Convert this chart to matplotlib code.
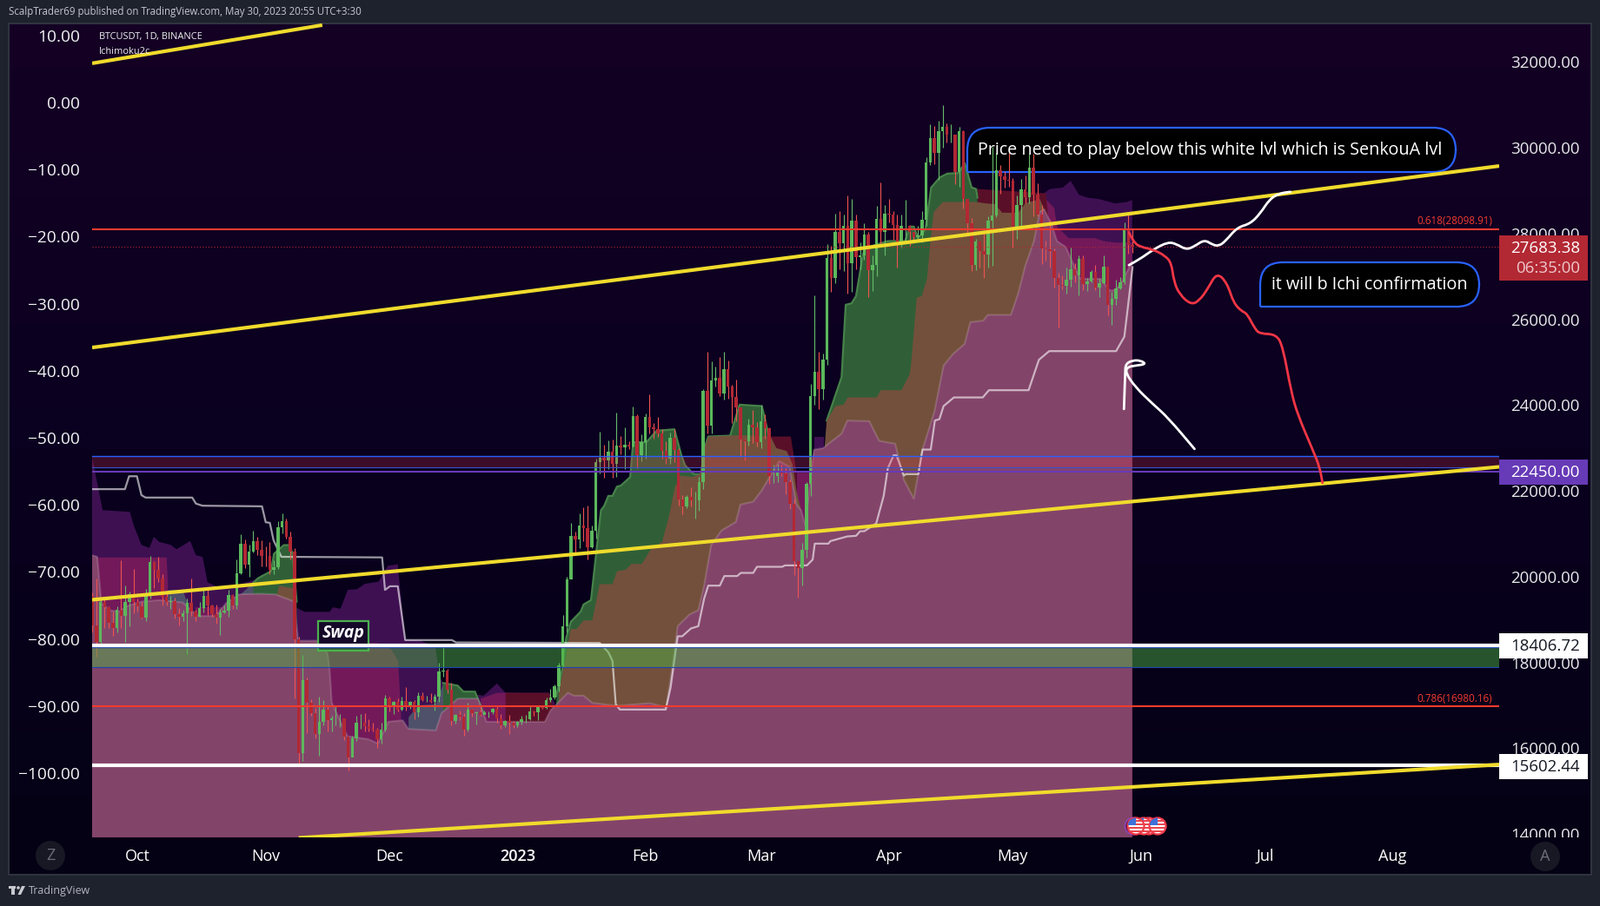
import numpy as np
import matplotlib
matplotlib.use("Agg")
import matplotlib.pyplot as plt
from matplotlib.colors import LinearSegmentedColormap
from matplotlib.patches import Circle, PathPatch, Rectangle
from matplotlib.path import Path
from matplotlib.transforms import Bbox

plt.rcParams["font.family"] = "Open Sans"
plt.rcParams["font.weight"] = "medium"

# ---------- candles: one row per day, 20 Sep 2022 .. 30 May 2023 (day 0 = 1 Oct 2022)
closes = [18870,18480,19400,19290,18920,18800,19220,19080,19410,19590,19420,
 19310,19050,19620,20340,20160,19950,19530,19420,19440,19130,19060,19150,19380,19180,19060,19260,19550,19330,19120,19040,19160,19200,19570,19330,20080,20770,20290,20590,20820,20630,20490,
 20480,20150,20210,21150,21300,20920,20590,18540,15880,17590,17070,16810,16330,16620,16900,16660,16690,16700,16700,16280,15780,16230,16600,16600,16520,16460,16430,16210,16440,17170,
 16970,17090,16890,17110,16970,17090,16840,17220,17130,17130,17090,17210,17780,17810,17360,16630,16780,16740,16440,16900,16820,16830,16780,16830,16830,16920,16700,16530,16630,16600,16540,
 16620,16670,16670,16850,16830,16950,16940,17120,17180,17440,17940,18850,19930,20950,20870,21190,21130,20680,21070,22670,22780,22710,22920,22630,23060,23010,23070,23030,23740,22830,23130,
 23730,23490,23430,23330,22930,22760,23240,22960,21800,21630,21860,21780,21780,22200,24330,23520,24570,24630,24280,24840,24440,24190,23950,23190,23160,23550,23490,23140,
 23630,23470,22350,22350,22430,22410,22200,21700,20360,20190,20630,22160,24200,24770,24370,25050,27420,26970,28040,27770,28170,27310,28300,27450,27480,27980,27140,27270,28350,28030,28470,
 28450,28200,27790,28170,28170,28040,27920,27950,28330,29650,30230,29880,30390,30480,30310,30310,29430,30380,28800,28240,27260,27820,27590,27510,28300,28420,29470,29340,29250,29230,
 28070,28670,29030,28840,29530,28900,28450,27660,27630,27600,26970,26800,26780,26920,27170,27030,27400,26820,26890,27100,26750,26850,27220,26330,26470,26720,26870,28080,27740,27683]
first_open = 19540
highs = [19640,19950,19500,19500,19310,19180,19310,20380,19790,19650,20180,
 19490,19400,19720,20480,20360,20460,20060,19620,19560,19510,19270,19220,19500,19950,19230,19420,19690,19710,19350,19340,19250,19320,19700,19600,20400,20990,20870,20750,21080,20930,20840,
 20700,20800,20380,21300,21470,21360,21060,20670,18600,18170,17650,17140,16930,17200,17120,17000,16750,17000,16800,16590,16260,16300,16750,16800,16820,16680,16600,16480,16590,17250,
 17200,17100,17160,17200,17420,17100,17130,17300,17300,17230,17280,17260,18000,18390,17850,17530,16800,16880,16820,17060,16920,16860,16960,16870,16860,16940,16970,16790,16660,16770,16630,
 16630,16760,16780,16990,16880,16990,16980,17180,17390,17490,18000,19100,20000,21260,21050,21470,21620,21650,21190,22750,23370,23080,23170,23200,23820,23280,23490,23160,23960,23790,23320,
 23800,24250,23580,23720,23430,23160,23360,23450,22990,21910,21910,22090,21990,22330,24380,25250,25020,24900,25120,25250,25030,24470,24600,23640,23220,23690,23880,23600,
 24000,23780,23480,22600,22620,22600,22540,22270,21820,20370,20790,22200,24500,26550,25250,25200,27760,27720,28470,28530,28440,28880,28800,28450,27800,28240,28030,27500,28650,29190,28660,
 28800,28530,28450,28440,28780,28190,28000,28170,28530,29770,30550,30500,30620,31000,30570,30550,30310,30490,30410,28750,28370,27880,27820,28000,28400,30020,29880,29590,29450,29970,
 29300,28880,29270,29360,29850,29850,29170,28660,27840,28330,27650,27080,27030,27200,27670,27300,27480,27480,26970,27150,27270,26950,27500,27220,26630,26930,26990,28260,28440,28100]
lows = [18700,18125,18360,18800,18800,18620,18700,18810,18470,18840,19150,
 19180,19020,18960,19500,19730,19880,19320,19330,19250,19030,18860,18970,18190,19090,18970,19070,19170,19100,19070,18900,18650,19140,19070,19250,19240,20050,20200,20000,20570,20500,20240,
 20250,20050,20050,20170,21000,20890,20410,17170,15590,15700,16360,16750,16230,15820,16540,16400,16400,16530,16500,16180,15480,15830,16170,16460,16400,16400,16400,16000,16110,16400,
 16860,16790,16860,16880,16870,16920,16680,16730,17100,17090,17070,16870,17080,17660,17280,16530,16580,16660,16290,16400,16730,16560,16760,16790,16710,16800,16590,16460,16490,16330,16470,
 16490,16550,16600,16660,16750,16660,16910,16910,17090,17150,17320,17900,18700,20000,20550,20660,20830,20400,20660,20880,22410,22300,22500,22300,22330,22850,22510,22980,23020,22520,22700,
 22760,23340,23210,23260,22750,22630,22630,22680,21650,21450,21600,21640,21350,21530,22050,23340,23340,24440,24200,24120,24150,23590,23620,22800,22720,23060,23110,23030,
 23000,23220,22160,22180,22200,22350,21920,21580,20040,19520,19800,20440,21880,24000,23900,24120,24930,26630,26850,27170,27120,26600,26630,27170,27160,27380,26510,26650,27000,27700,27500,
 28260,27860,27200,27670,27820,27710,27780,27880,27800,28170,29600,29620,29260,30000,30130,30120,29150,29080,28590,27970,27130,27150,27200,26970,27200,27240,28380,28920,29060,29090,
 27670,27880,28130,28700,28700,28400,28400,27280,27370,27200,26750,25810,26700,26600,26760,26870,26550,26670,26650,26870,26690,26520,26830,26100,25870,26340,26700,26830,27530,27550]
first_day = -11

# ---------- cloud outlines (day, price)
pink_d = [-11.05,-9.8,-8.8,-6.7,-4.6,-2.5,1,5.2,10.9,12.6,14.7,18.9,21.4,24.5,29.8,33.3,37.9,38.9,43.8,46,46.5,47,50.8,55.8,58.2,60.7,64.2,65.6,72.2,73.6,77.5,82.4,84.5,98.6,100,104.2,105.6,108,110.1,116,124,128,129.4,130.8,133.6,135.8,137.2,138.9,141.4,144.9,146,149.1,151.2,155.4,157.9,159.6,160.7,161.7,163,163.8,166,170.5,171.9,177.2,179.6,183.5,185.6,188,190.1,193,195.2,197.5,200.3,201.7,204.8,205.9,211.5,213.3,215,217.1,218.5,219.6,221.3,222.7,224.8,227,228.4,233.3,235.4,236.8,238.2,240.9]
pink_p = [20500,20466,19386,19217,19183,19318,19420,19453,19400,19251,19082,19082,19386,19588,19602,19588,19420,18508,18508,18205,17830,17065,16281,16213,16112,16618,16652,16450,16416,16821,17158,17158,16618,16618,16888,17293,17226,17226,17057,16990,17050,16956,17833,18846,19116,19217,19791,20736,21074,21276,21681,21748,22018,22693,22558,21681,21546,21208,22300,22963,22997,23335,23638,23625,23166,23098,22255,21816,22963,23850,24921,25191,25427,25934,25967,26102,26102,26609,27250,27823,28498,28566,28228,27823,27688,27216,26946,26946,26676,26676,26845,27351]

purple_d = [-11.05,-8.5,-1.9,-1,0.9,2.8,3.9,5.2,8,9.4,12.7,14.1,15.7,16.9,19.3,24,28.7,33,37,38,38.5,40.4,46.5,47.3,49.1,50.9,53.1,55,58.3,60.6,63,63.4,64.8,68.4,71.2,72.2,73,74,77.5,78.9,83.8,87,89.1,99.6,101]
purple_p = [22775,21550,21510,21200,20740,20670,20930,20810,20740,20640,20830,20500,20460,19870,19760,19800,19938,19830,19800,19400,19272,19180,19180,19286,19251,19692,19706,19832,19881,20253,20288,19868,18536,18508,18407,18306,17700,17500,17428,17293,17226,17510,17293,17293,17065]
purple2_d = [218.9,220,221,224.1,226,228,230.1,232.9,236.8,239.6,240.9]
purple2_p = [28903,28971,29038,29072,29228,28903,28836,28802,28701,28735,28782]
purple3_d = [163.8,166.3]
purple3_p = [23267,23267]

magenta1_d = [-11.05,7,7.3]
magenta1_p = [20446,20446,19858]
magenta2_d = [14,21]
magenta2_p = [19285,19285]
magenta3_d = [43,50,58,61.4,63.1,63.8]
magenta3_p = [18454,18454,18454,18306,18036,16753]
magenta4_d = [83.1,87,89.1,100]
magenta4_p = [17158,17290,17293,17260]
magenta5_d = [159.6,162.8,163.8]
magenta5_p = [22424,22424,22963]
magenta6_d = [218.9,222,222.7,224.1,225.5,231.9,234,236.8,240.9]
magenta6_p = [28903,28600,28161,28026,27891,27891,27823,27790,27790]

darkred1_d = [89.1,99.6,100.2,101]
darkred1_p = [17293,17293,17100,16900]
darkred2_d = [153.3,158.2,159.6]
darkred2_p = [23267,23267,22424]
darkred3_d = [203.4,220,220.5]
darkred3_p = [29038,28937,28400]

slate1_d = [65.6,68,72.2,74,77.5,78.9,81.7,83.8]
slate1_p = [16720,17000,17023,17496,17428,17293,17293,16753]
slate2_d = [24.9,28,30.1,32.9,33.8]
slate2_p = [19587,19858,20043,20043,19800]
slate3_d = [7.3,10.9,12.3,12.6]
slate3_p = [19690,19690,19318,19200]

green1_d = [28,29.1,32.3,33,35.4,36.8,37.5,38.5]
green1_p = [19858,19960,20128,20533,20736,20736,20533,19420]
green2_d = [74,77.5,78.9,81.7,83.8]
green2_p = [17520,17460,17320,17320,16800]
green3_d = [101.4,102.8,103.8,104.9,107.3,108,109.8,112.2,113,114,115,116.1,117,119.3,120,123.2,125.7,130,131.7,132.6,134.7,136.1]
green3_p = [17226,17833,18576,18947,19184,19352,19453,21546,21650,21883,21883,22100,22120,22322,23132,23132,23402,23436,22828,22592,22390,22390]
green4_d = [137.2,138.2,143.5,145.8,151.2,152.9,153.5]
green4_p = [22963,23267,23287,24009,23976,23267,23000]
green5_d = [166.9,170.5,171.5,172.9,174,175.4,176,181.7,185.9,187,188,189,190.8,192.2,194.3,196.1,198.9,200.3,202,203.1,203.4]
green5_p = [23640,24651,26338,26372,26541,27351,27655,27823,27823,28161,28161,27891,28094,29072,29308,29396,29410,29646,29072,29038,28836]

brown1_d = [33.7,34.3,37.6,37.8]
brown1_p = [19587,19791,19727,19482]
brown2_d = [102,104,104.9,106.3,108,110.1,111.9,115,116.1,118.2,119.6,122.1,124.5,127,128.7,130.1,131.5,134.4,136.1,137.2,138.2,143.5,146,153.3,154.7,157.2,158.6,159.6,160.7]
brown2_p = [17300,18300,18778,18778,18981,18981,19825,19825,20128,20162,20297,20297,20668,20804,21411,22086,22356,22322,22390,22963,23267,23287,23300,23267,22997,22930,22626,22000,21546]
brown3_d = [166.4,166.9,169,171,172,179,180,185,187,187.3,188.7,189.9,191.2,191.9,192.8,195,203.1,205.5,207.6,209.4,213.3,215,218.5,219.6,220]
brown3_p = [23031,23640,23975,24010,24178,24178,24347,24347,24718,24921,26507,26541,26946,27688,28498,28735,28735,28701,28687,28485,28485,28701,28802,28566,28400]

# ---------- light baseline (day, price)
base_d = [-11.05,-3.1,-2.1,-0.2,0.9,1.9,13.2,14.1,15.7,30.1,31,32,32.9,34.8,59.2,59.9,61.1,63,64.8,76.1,77.1,111.9,114,115,115.8,116.8,127.9,129.1,130.8,131.9,134,135.8,137.2,138.2,141,142.1,145.2,146.1,149.1,150,156.1,156.8,162.1,163.5,164,167.3,167.8,171.9,174,175,176,178.9,180.7,181.7,183.1,183.8,185.6,186.1,189.1,190.1,192.1,193.1,194.2,195.2,197.7,204.7,206.2,215.8,218.3,220.8,237,239,241]
base_p = [22040,22040,22341,22341,21900,21844,21844,21703,21654,21640,21269,21255,20848,20463,20449,19692,19776,19776,18522,18522,18466,18454,18238,18036,17024,16902,16902,17429,18610,18610,18792,18846,19487,19791,19791,20014,20014,20088,20088,20230,20230,20263,20263,20398,20770,20770,20830,20938,20952,21060,21060,21242,21883,22525,22828,22828,22356,22390,22390,22963,22963,23640,23672,23976,24178,24178,24347,24347,25056,25258,25258,25596,27216]

# ---------- trend lines
yellow1_d, yellow1_p = [-11.05, 44.7], [31968, 32859]
yellow2_d, yellow2_p = [-11.05, 329.8], [25342, 29574]
yellow3_d, yellow3_p = [-11.05, 329.8], [19461, 22560]
yellow4_d, yellow4_p = [39, 329.8], [13912, 15620]

# ---------- freehand strokes
white_d = [240.1,242.5,246.1,249.6,251.6,254,256,258.4,260.4,261.9,263.5,266.3,269.5,271.9,274.2,276.6,279.2]
white_p = [27263,27385,27634,27803,27756,27621,27702,27857,27736,27709,27823,28141,28228,28465,28802,28937,28971]
red_d = [240.1,241.3,242.9,246.1,248.8,250.4,251,252.4,255.2,257.2,259.2,261.4,263.9,265.5,267.5,268.7,270.7,271.9,275.8,277.4,279.4,281,284.6,286.3,287]
red_p = [28026,27790,27688,27621,27486,27317,26878,26575,26338,26440,26710,27094,26845,26372,26183,26136,25765,25664,25650,25360,24313,23773,22964,22559,22187]
arrow_d = [238.9,239.2,239.3,240.9,242.9,244.3,241.7,239.7,239.3,241.7,245.7,249.6,256]
arrow_p = [23908,24752,24955,25042,25042,24955,24921,24887,24752,24415,24043,23706,22977]

# ---------- levels
fib_618, fib_786 = 28098.91, 16980.16
last_price = 27683.38
band_red = (22544, 22810)
level_purple = 22450
band_green = (17898, 18406.72)
band_green_edge = 18350
level_white = 15602.44

# ---------- axes ticks
x_days = [0, 31, 61, 92, 123, 151, 182, 212, 243, 273, 304]
x_labels = ["Oct", "Nov", "Dec", "2023", "Feb", "Mar", "Apr", "May", "Jun", "Jul", "Aug"]
right_ticks = [14000,16000,18000,20000,22000,24000,26000,28000,30000,32000]
left_ticks = [10,0,-10,-20,-30,-40,-50,-60,-70,-80,-90,-100]

W, H = 1841, 1043
PAGE = "#1e222d"
fig = plt.figure(figsize=(W/100, H/100), dpi=100, facecolor=PAGE)

def rect_of(x0, y0, x1, y1):
    return [x0/W, 1-y1/H, (x1-x0)/W, (y1-y0)/H]

bg = fig.add_axes(rect_of(10, 27, 1831, 1007), zorder=0)
cmap = LinearSegmentedColormap.from_list("pane", ["#140024", "#0a001f", "#040214"])
bg.imshow(np.linspace(0, 1, 256)[:, None], cmap=cmap, aspect="auto", extent=(0, 1, 0, 1))
bg.set_xticks([]); bg.set_yticks([])
for s in bg.spines.values():
    s.set_color("#2f333f"); s.set_linewidth(1.5)

ax = fig.add_axes(rect_of(106, 27, 1725, 964), zorder=2)
ax.patch.set_alpha(0)
ax.set_xlim(-11.05, 329.8)
ax.set_ylim(13922, 32897)
for s in ax.spines.values():
    s.set_visible(False)

ov = fig.add_axes([0, 0, 1, 1], zorder=5)
ov.set_xlim(0, W); ov.set_ylim(H, 0); ov.axis("off"); ov.patch.set_alpha(0)

LOW = 13000
def cloud(d, p, color, z, edge=None):
    ax.fill(list(d)+[d[-1], d[0]], list(p)+[LOW, LOW], color=color, lw=0, zorder=z)
    if edge:
        ax.plot(d, p, color=edge, lw=1.6, zorder=z+0.01, solid_joinstyle="round")

PURPLE, MAG, DRED, SLATE = "#3e1052", "#73195a", "#5a0f28", "#4f5069"
GREEN, GEDGE, BROWN, PINK = "#305f37", "#468249", "#73503c", "#83446a"

cloud(purple_d, purple_p, PURPLE, 1.0)
cloud(purple2_d, purple2_p, PURPLE, 1.0)
cloud(purple3_d, purple3_p, PURPLE, 1.0)
for d, p in [(magenta1_d, magenta1_p), (magenta2_d, magenta2_p), (magenta3_d, magenta3_p),
             (magenta4_d, magenta4_p), (magenta5_d, magenta5_p), (magenta6_d, magenta6_p)]:
    cloud(d, p, MAG, 1.1)
for d, p in [(darkred1_d, darkred1_p), (darkred2_d, darkred2_p), (darkred3_d, darkred3_p)]:
    cloud(d, p, DRED, 1.2)
cloud(slate1_d, slate1_p, SLATE, 1.3)
cloud(slate2_d, slate2_p, SLATE, 1.3)
cloud(slate3_d, slate3_p, SLATE, 1.3)
for d, p in [(green1_d, green1_p), (green2_d, green2_p), (green3_d, green3_p),
             (green4_d, green4_p), (green5_d, green5_p)]:
    cloud(d, p, GREEN, 1.4, GEDGE)
for d, p in [(brown1_d, brown1_p), (brown2_d, brown2_p), (brown3_d, brown3_p)]:
    cloud(d, p, BROWN, 1.5)
cloud(pink_d, pink_p, PINK, 1.6)
ax.plot(pink_d, pink_p, color="white", alpha=0.16, lw=1.5, zorder=1.7)
ax.plot(base_d, base_p, color="white", alpha=0.6, lw=1.6, zorder=1.8, solid_joinstyle="round")

def callout(x0, y0, x1, y1, r, text, fs, dx=0):
    C3 = Path.CURVE3
    verts = [(x0, y1), (x0, y0+r), (x0, y0), (x0+r, y0), (x1-r, y0), (x1, y0), (x1, y0+r),
             (x1, y1-r), (x1, y1), (x1-r, y1), (x0, y1)]
    codes = [Path.MOVETO, Path.LINETO, C3, C3, Path.LINETO, C3, C3, Path.LINETO, C3, C3, Path.LINETO]
    ax.add_patch(PathPatch(Path(verts, codes), fc="black", ec="#2962ff", lw=1.6,
                           transform=ov.transData, clip_on=False, zorder=2.0))
    ax.text((x0+x1)/2+dx, (y0+y1)/2+0.5, text, color="white", fontsize=fs, ha="center", va="center",
            transform=ov.transData, clip_on=False, zorder=4.5)

callout(1113, 147, 1675, 198, 26, "Price need to play below this white lvl which is SenkouA lvl", 14.2, -2)
callout(1450, 302, 1702, 353, 26, "it will b Ichi confirmation", 14.2)

days = list(range(first_day, first_day+len(closes)))
opens = [first_open] + closes[:-1]
wick_c = ["#66bb6a" if c >= o else "#ef5350" for o, c in zip(opens, closes)]
body_c = ["#5cb85c" if c >= o else "#b22833" for o, c in zip(opens, closes)]
ax.vlines(days, lows, highs, colors=wick_c, lw=0.8, zorder=3.0)
ax.bar(days, [c-o for o, c in zip(opens, closes)], bottom=opens, width=0.74, color=body_c, lw=0, zorder=3.1)

ax.add_patch(Rectangle((366, 714.5), 58, 34, fc="#150828", ec="#4caf50", lw=1.6,
                       transform=ov.transData, clip_on=False, zorder=3.2))
ax.text(395, 729, "Swap", color="white", fontsize=14, style="italic", fontweight="bold",
        ha="center", va="center", transform=ov.transData, clip_on=False, zorder=3.3)

ax.axhspan(*band_red, color="#e13750", alpha=0.24, lw=0, zorder=3.4)
ax.axhspan(*band_green, color="#4cb444", alpha=0.47, lw=0, zorder=3.4)
ax.axhline(band_red[1], color="#2962ff", lw=1.0, zorder=3.5)
ax.axhline(band_red[0], color="#3554d1", lw=0.8, zorder=3.5)
ax.axhline(band_green[0], color="#1f45b0", lw=0.8, zorder=3.5)
ax.axhline(band_green_edge, color="#1f45b0", lw=1.0, zorder=3.5)
ax.axhline(level_purple, color="#673ab7", lw=1.5, zorder=3.5)
ax.axhline(fib_618, color="#f23b2f", lw=1.5, zorder=3.6)
ax.axhline(fib_786, color="#f23b2f", lw=1.5, zorder=3.6)
ax.axhline(last_price, color="#b22833", lw=0.8, ls=(0, (1, 2)), zorder=3.6)
ax.axhline(band_green[1], color="white", lw=3.0, zorder=3.7)
ax.axhline(level_white, color="white", lw=3.0, zorder=3.7)

for d, p in [(yellow1_d, yellow1_p), (yellow2_d, yellow2_p), (yellow3_d, yellow3_p), (yellow4_d, yellow4_p)]:
    ax.plot(d, p, color="#f0db2c", lw=3.0, zorder=3.8, solid_capstyle="butt")

def stroke(d, p, color, z):
    """Freehand stroke: quadratic segments through midpoints of the drawn vertices."""
    pts = list(zip(d, p))
    verts = [pts[0]]
    codes = [Path.MOVETO]
    for i in range(1, len(pts)-1):
        mid = ((pts[i][0]+pts[i+1][0])/2, (pts[i][1]+pts[i+1][1])/2)
        verts += [pts[i], mid]
        codes += [Path.CURVE3, Path.CURVE3]
    verts.append(pts[-1]); codes.append(Path.LINETO)
    ax.add_patch(PathPatch(Path(verts, codes), fc="none", ec=color, lw=2.0, zorder=z,
                           capstyle="round", joinstyle="round"))

stroke(white_d, white_p, "white", 4.0)
stroke(arrow_d, arrow_p, "white", 4.0)
stroke(red_d, red_p, "#f23645", 4.1)

ax.text(1717, 254, "0.618(28098.91)", color="#f23b2f", fontsize=8.4, ha="right", va="center",
        transform=ov.transData, clip_on=False, zorder=4.5)
ax.text(1717, 805, "0.786(16980.16)", color="#f23b2f", fontsize=8.4, ha="right", va="center",
        transform=ov.transData, clip_on=False, zorder=4.5)

ax.set_xticks(x_days, x_labels)
ax.tick_params(axis="x", length=0, pad=9.5, labelsize=13, labelcolor="white")
for t in ax.get_xticklabels():
    if t.get_text() == "2023":
        t.set_fontweight("semibold")
ax.yaxis.tick_right()
ax.set_yticks(right_ticks, [f"{v}.00" for v in right_ticks])
ax.tick_params(axis="y", length=0, pad=9.4, labelsize=13.4, labelcolor="#e9e9ec")
clip = Bbox([[1725, H-964], [1841, H-27]])
for t in ax.get_yticklabels():
    t.set_clip_on(True)
    t.set_clip_box(clip)

ax2 = fig.add_axes(rect_of(106, 27, 1725, 964), zorder=1)
ax2.patch.set_alpha(0)
ax2.set_xticks([])
ax2.set_ylim(-109.6, 11.81)
ax2.set_yticks(left_ticks, [f"\u2212{abs(v)}.00" if v < 0 else f"{v}.00" for v in left_ticks])
ax2.tick_params(axis="y", length=0, pad=10, labelsize=13.8, labelcolor="#f2f2f4")
for s in ax2.spines.values():
    s.set_visible(False)

def tag(y0, y1, fc, lines):
    ov.add_patch(Rectangle((1725, y0), 102, y1-y0, fc=fc, ec="none"))
    for (yc, txt, col) in lines:
        ov.text(1818, yc, txt, color=col, fontsize=13.4, ha="right", va="center")

tag(271, 323, "#b22833", [(286, "27683.38", "white"), (309, "06:35:00", "#eec9cc")])
tag(529, 558, "#673ab7", [(544, "22450.00", "white")])
tag(729, 758, "white", [(744, "18406.72", "#131722")])
tag(868, 897, "white", [(883, "15602.44", "#131722")])

ov.text(10, 14, "ScalpTrader69 published on TradingView.com, May 30, 2023 20:55 UTC+3:30",
        color="#c3c5cc", fontsize=8.3, ha="left", va="center")
ov.text(114, 42, "BTCUSDT, 1D, BINANCE", color="#f0f0f3", fontsize=7.9, ha="left", va="center")
ov.text(114, 59, "Ichimoku2c", color="#f0f0f3", fontsize=7.9, ha="left", va="center")
ov.text(33, 1025, "TradingView", color="#b2b5be", fontsize=9, ha="left", va="center")
ov.add_patch(Rectangle((10, 1020), 8, 3.2, fc="#c8cad0", ec="none"))
ov.add_patch(Rectangle((13.5, 1020), 3.6, 10, fc="#c8cad0", ec="none"))
ov.add_patch(Circle((21, 1022), 1.8, fc="#c8cad0", ec="none"))
ov.fill([25, 29, 24, 20.5], [1020, 1020, 1030, 1030], color="#c8cad0", lw=0)

for cx, cy, s in [(58, 985, "Z"), (1778, 986, "A")]:
    ov.add_patch(Circle((cx, cy), 17, fc="#181824", ec="none"))
    ov.text(cx, cy, s, color="#6a6d78", fontsize=13, ha="center", va="center")

ov.add_patch(Circle((1304, 951), 9.5, fc="#1a0a30", ec="#8e44ad", lw=1.5))
for cx in [1322, 1316, 1332, 1307]:
    rim = Circle((cx, 951), 9.5, fc="white", ec="#f23645", lw=1.6)
    ov.add_patch(rim)
    for yy in [944, 948, 952, 956]:
        r = Rectangle((cx-10, yy), 20, 2, fc="#e8474f", ec="none")
        ov.add_patch(r); r.set_clip_path(rim)
    r = Rectangle((cx-9, 941), 9, 9, fc="#3f6fd8", ec="none")
    ov.add_patch(r); r.set_clip_path(rim)

fig.savefig("out.png", dpi=100, facecolor=PAGE)
